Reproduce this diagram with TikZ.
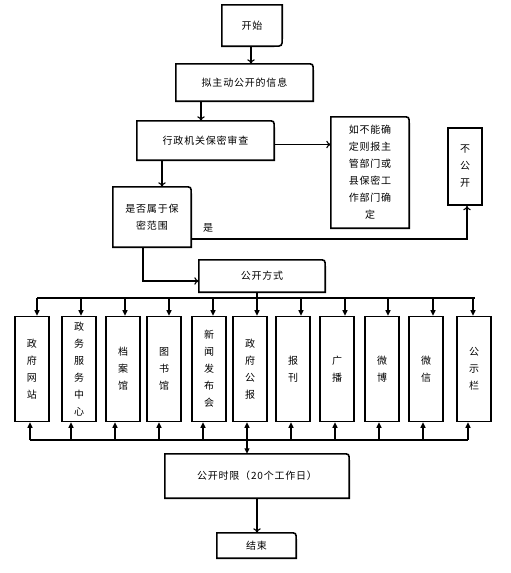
\documentclass[tikz,border=0pt]{standalone}
\usepackage{fontspec}
\setmainfont[LetterSpace=8]{Noto Sans CJK SC}
\usetikzlibrary{arrows.meta}

\begin{document}
\begin{tikzpicture}[
    x=1pt, y=-1pt,
    cell/.style={
      inner sep=0pt,
      align=center,
      text=black,
      font=\fontsize{10}{17}\selectfont,
    },
    outline/.style={draw=black, line width=1.6pt},
    wayout/.style={cell, outline, minimum width=34pt, minimum height=105pt},
    line/.style={line width=1.1pt},
    arr/.style={-{To[length=4.5pt, width=7.5pt]}, line width=1.1pt},
    tip/.style={-{Triangle[length=5.5pt, width=5pt]}, line width=1.1pt},
  ]
  \useasboundingbox (0,0) rectangle (511,573);

  % main flow
  \node[cell, minimum width=60pt, minimum height=41pt] (start) at (252,25.5) {开始};
  \node[cell, minimum width=137pt, minimum height=37pt] (info) at (244.5,82.5) {拟主动公开的信息};
  \node[cell, minimum width=137pt, minimum height=39pt] (review) at (205.5,140.5) {行政机关保密审查};
  \node[cell, minimum width=78pt, minimum height=111pt] (ask) at (370,172.5) {如不能确\\定则报主\\管部门或\\县保密工\\作部门确\\定};
  \node[cell, outline, minimum width=34pt, minimum height=77pt] (nopub) at (465,166.5) {不\\公\\开};
  \node[cell, minimum width=78pt, minimum height=60pt] (secret) at (152,217) {是否属于保\\密范围};
  \node[cell, minimum width=126pt, minimum height=32pt] (mode) at (262,276) {公开方式};
  \node[cell, minimum width=184pt, minimum height=44pt] (limit) at (257,476) {公开时限（20个工作日）};
  \node[cell, minimum width=79pt, minimum height=25pt] (finish) at (256.5,545.5) {结束};

  % outlines, rounded at one corner
  \draw[outline] (start.north west) -- (start.north east) -- ([yshift=8pt]start.south east)
    .. controls (start.south east) .. ([xshift=-8pt]start.south east) -- (start.south west) -- cycle;
  \foreach \n in {info, review, ask, secret, mode, limit, finish}
    \draw[outline] (\n.south west) -- (\n.north west) -- ([xshift=-7pt]\n.north east)
      .. controls (\n.north east) .. ([yshift=-7pt]\n.north east) -- (\n.south east) -- cycle;

  % ways of publishing
  \foreach \n/\cx/\txt/\ax/\bx in {
      web/32/{政\\府\\网\\站}/37/30,
      hall/79/{政\\务\\服\\务\\中\\心}/81/71,
      archive/123/{档\\案\\馆}/125/115,
      library/164/{图\\书\\馆}/169/159,
      press/209/{新\\闻\\发\\布\\会}/213/203,
      gazette/250/{政\\府\\公\\报}/257/247,
      paper/293/{报\\刊}/301/291,
      radio/337/{广\\播}/345/335,
      weibo/382/{微\\博}/388/379,
      wechat/426/{微\\信}/433/423,
      board/474/{公\\示\\栏}/473/468} {
    \node[wayout] (\n) at (\cx,369) {\txt};
    \draw[tip] (\ax,298) -- (\ax,0 |- \n.north);
    \draw[tip] (\bx,440) -- (\bx,0 |- \n.south);
  }

  \coordinate (topL) at (37,298);
  \coordinate (topR) at (475,298);
  \coordinate (botL) at (30,440);
  \coordinate (botR) at (468,440);
  \coordinate (drop) at (247,440);

  % connectors
  \draw[arr] ([xshift=-1pt]start.south) -- ([xshift=-1pt]start.south |- info.north);
  \draw[arr] ([xshift=-43.5pt]info.south) -- ([xshift=-43.5pt]info.south |- review.north);
  \draw[arr] ([xshift=-43.5pt]review.south) -- ([xshift=-43.5pt]review.south |- secret.north);
  \draw[arr] ([yshift=-4pt]review.east) -- ([yshift=-4pt]review.east -| ask.west);
  \draw[arr] ([yshift=-22pt]secret.east) -| ([xshift=2pt]nopub.south);
  \node[cell, anchor=south west] (yes) at (203,233) {是};
  \draw[arr] ([xshift=-9pt]secret.south) |- ([yshift=-5pt]mode.west);
  \draw[line] ([xshift=-5pt]mode.south) -- ([xshift=-5pt]mode.south |- topL);
  \draw[line] (topL) -- (topR);
  \draw[line] (botL) -- (botR);
  \draw[tip] (drop) -- (drop |- limit.north);
  \draw[arr] (limit.south) -- (limit.south |- finish.north);
\end{tikzpicture}
\end{document}
